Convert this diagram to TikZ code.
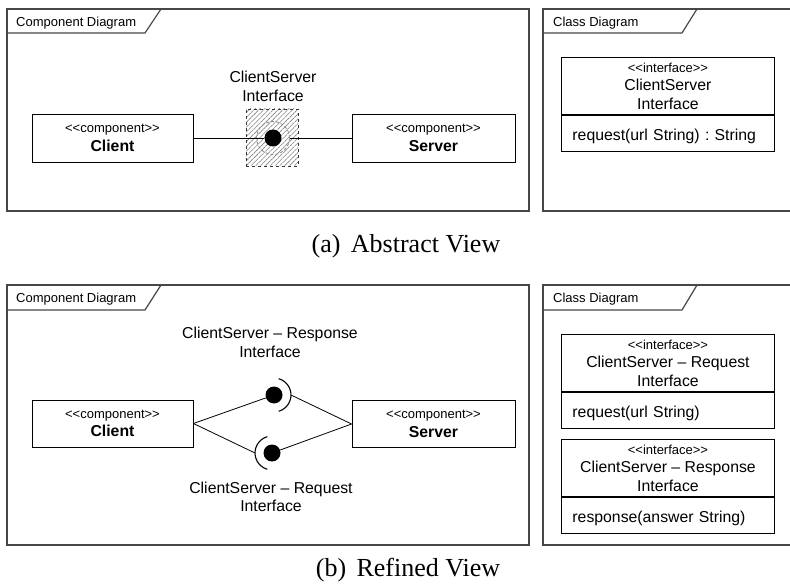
\documentclass[tikz,border=0pt]{standalone}
\usepackage{fontspec}
\setmainfont{Liberation Sans}
\newfontfamily\capfont{Liberation Serif}
\usetikzlibrary{patterns.meta,calc}
\frenchspacing
\newcommand\fsS{\fontsize{13}{15}\selectfont}
\newcommand\fsL{\fontsize{15.8}{18.5}\selectfont}
\newcommand\stereo[1]{{\fsS<{}<#1>{}>}}

\begin{document}
\begin{tikzpicture}[x=1pt,y=-1pt,
  frameline/.style={draw=black!72, line width=1.2pt},
  tabtext/.style={font=\fsS, anchor=base west, inner sep=0},
  comp/.style={draw, line width=0.9pt, minimum height=48pt, align=center, inner sep=0, font=\fsL},
  ifhead/.style={draw, line width=0.9pt, minimum width=213pt, minimum height=57pt,
    align=center, inner sep=0, anchor=north west, font=\fsL},
  ifbody/.style={draw, line width=0.9pt, text width=191pt, inner xsep=11pt, inner ysep=0,
    text height=15pt, text depth=0pt,
    minimum height=36pt, align=left, anchor=north west, font=\fsL},
  ball/.style={circle, fill=black, inner sep=0, minimum size=17pt},
  wire/.style={line width=0.8pt},
  socket/.style={line width=1.1pt},
  lbl/.style={font=\fsL, align=center, inner sep=0},
  capt/.style={font=\capfont\fontsize{26}{30}\selectfont, anchor=base, inner sep=0}
]
\path[fill=white, use as bounding box] (0,0) rectangle (790,585);
\clip (0,0) rectangle (790,585);

% ---------- (a) component diagram ----------
\draw[frameline] (7,9) rectangle (529,211);
\draw[frameline] (7,33) -- (145,33) -- (161,9);
\node[tabtext] (tabCA) at (16,26.5) {Component Diagram};

\node[comp, minimum width=161pt] (clA) at (112.5,138)
  {\stereo{component}\\\bfseries Client};
\node[comp, minimum width=163pt] (svA) at (433.5,138)
  {\stereo{component}\\\bfseries Server};

\node[draw=black!80, dashed, line width=0.8pt,
  pattern={Lines[angle=45, distance=3.4pt, line width=0.6pt]}, pattern color=black!50,
  minimum width=52pt, minimum height=57pt, inner sep=0] (sqA) at (272,137.5) {};
\node[circle, draw=black!45, densely dashed, line width=0.8pt, minimum size=33pt, inner sep=0]
  (ringA) at (273,138) {};
\node[ball] (ballA) at (273,138) {};
\node[lbl] (lblA) at (273,86.5) {ClientServer\\Interface};

\draw[wire] (clA.east) -- (ballA.west);
\draw[wire] (ringA.east) -- (svA.west);

% ---------- (a) class diagram ----------
\draw[frameline] (543,9) rectangle (800,211);
\draw[frameline] (543,33) -- (682,33) -- (697,9);
\node[tabtext] (tabKA) at (553,26.5) {Class Diagram};

\node[ifhead] (ifA) at (561,57)
  {\stereo{interface}\\ClientServer\\Interface};
\node[ifbody] (opA) at (ifA.south west) {request(url String) : String};

\node[capt] (capA) at (406,253) {(a)\hspace{0.4em}Abstract View};

% ---------- (b) component diagram ----------
\draw[frameline] (7,285) rectangle (529,545);
\draw[frameline] (7,310) -- (145,310) -- (161,285);
\node[tabtext] (tabCB) at (16,302.5) {Component Diagram};

\node[comp, minimum width=161pt, minimum height=47pt] (clB) at (112.5,423.5)
  {\stereo{component}\\\bfseries Client};
\node[comp, minimum width=163pt, minimum height=47pt] (svB) at (433.5,424)
  {\stereo{component}\\\bfseries Server};

\node[ball] (ballU) at (274,395) {};
\node[ball] (ballD) at (272,453) {};
\draw[socket] (ballU) ++(74:17pt) arc[start angle=74, end angle=-74, radius=17pt];
\draw[socket] (ballD) ++(106:17pt) arc[start angle=106, end angle=254, radius=17pt];
\coordinate (sockU) at ($(ballU)+(17,0)$);
\coordinate (sockD) at ($(ballD)+(-17,0)$);

\draw[wire] (clB.east) -- (ballU);
\draw[wire] (sockU) -- (svB.west);
\draw[wire] (clB.east) -- (sockD);
\draw[wire] (ballD) -- (svB.west);

\node[lbl] (lblU) at (270,342.5) {ClientServer -- Response\\Interface};
\node[lbl] (lblD) at (271,497) {ClientServer -- Request\\Interface};

% ---------- (b) class diagram ----------
\draw[frameline] (543,285) rectangle (800,545);
\draw[frameline] (543,310) -- (682,310) -- (697,285);
\node[tabtext] (tabKB) at (553,302.5) {Class Diagram};

\node[ifhead] (ifReq) at (561,334)
  {\stereo{interface}\\ClientServer -- Request\\Interface};
\node[ifbody] (opReq) at (ifReq.south west) {request(url String)};

\node[ifhead] (ifRes) at (561,439)
  {\stereo{interface}\\ClientServer -- Response\\Interface};
\node[ifbody] (opRes) at (ifRes.south west) {response(answer String)};

\node[capt] (capB) at (408,576) {(b)\hspace{0.4em}Refined View};
\end{tikzpicture}
\end{document}
